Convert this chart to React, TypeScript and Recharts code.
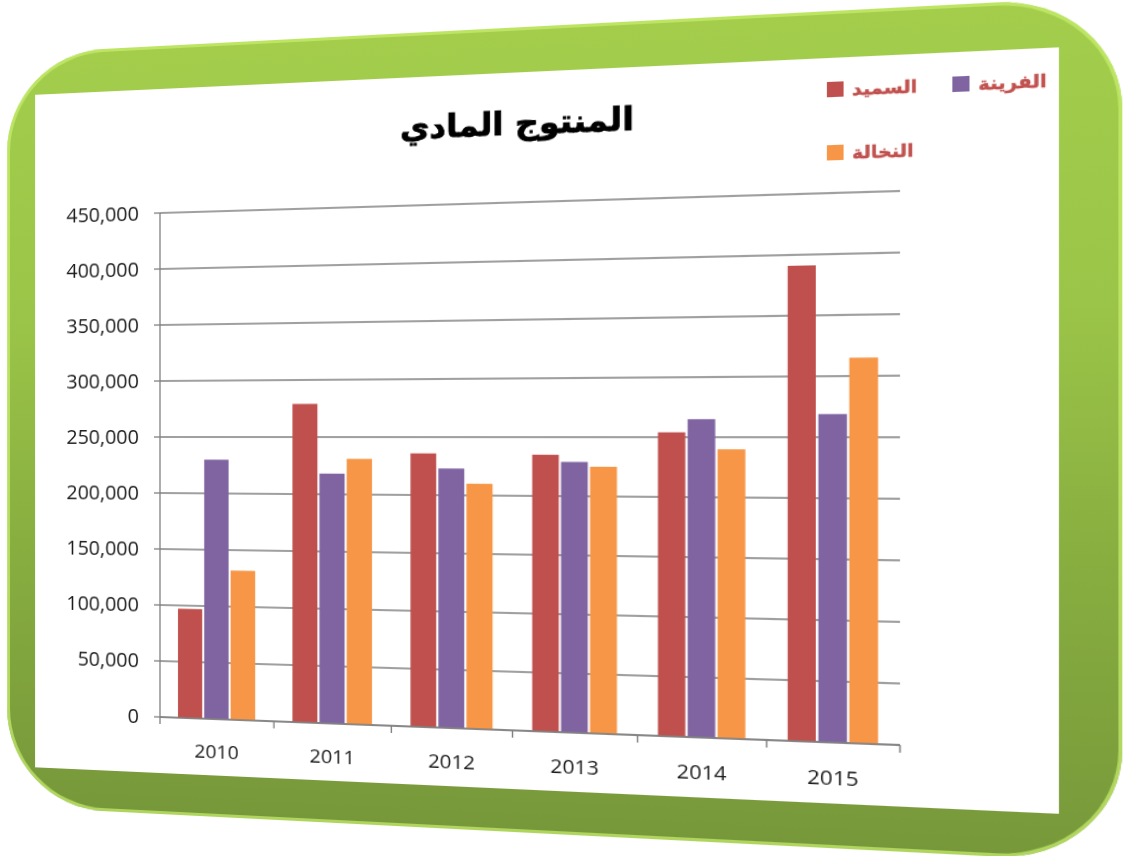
import { BarChart, Bar, XAxis, YAxis, CartesianGrid } from "recharts";

const years = ["2010", "2011", "2012", "2013", "2014", "2015"];
const semolina = [97000, 279000, 236000, 235000, 254000, 391000];
const flour = [230000, 218000, 223000, 229000, 265000, 269000];
const bran = [132000, 231000, 210000, 225000, 240000, 315000];
const yTicks = [0, 50000, 100000, 150000, 200000, 250000, 300000, 350000, 400000, 450000];

const series = [
  { key: "semolina", name: "السميد", color: "#c0504d" },
  { key: "flour", name: "الفرينة", color: "#8064a2" },
  { key: "bran", name: "النخالة", color: "#f79646" },
];

const data = years.map((y, i) => ({
  year: y,
  semolina: semolina[i],
  flour: flour[i],
  bran: bran[i],
}));

const CHART_W = 900;
const CHART_H = 620;
const MARGIN = { top: 63, right: 67, bottom: 13, left: 60 };
const Y_W = 100;
const PLOT_W = CHART_W - MARGIN.left - MARGIN.right - Y_W;
const STEP = PLOT_W / years.length;

const fmt = (v: number) => v.toLocaleString("en-US");

function YearTick(props: any) {
  const { x, y, payload, index } = props;
  const half = STEP / 2;
  return (
    <g>
      <line x1={x - half} x2={x - half} y1={y - 6} y2={y + 1} stroke="#808080" strokeWidth={1.3} />
      {index === years.length - 1 && (
        <line x1={x + half} x2={x + half} y1={y - 6} y2={y + 1} stroke="#808080" strokeWidth={1.3} />
      )}
      <text
        x={x}
        y={y + 33}
        textAnchor="middle"
        fontFamily="'Open Sans', sans-serif"
        fontSize={19}
        fill="#1a1a1a"
      >
        {payload.value}
      </text>
    </g>
  );
}

export default function App() {
  return (
    <div
      style={{
        position: "absolute",
        left: 0,
        top: 0,
        width: 1126,
        height: 856,
        overflow: "hidden",
        background: "#fff",
      }}
    >
      <div
        style={{
          position: "absolute",
          left: 0,
          top: 0,
          width: 1126,
          height: 856,
          transformOrigin: "0 0",
          transform:
            "matrix3d(0.9788, -0.05832, 0, -0.0001342, 0, 1, 0, 0, 0, 0, 1, 0, 3.39, 9.33, 0, 1.02147)",
        }}
      >
        {/* green frame */}
        <div
          style={{
            position: "absolute",
            left: 4,
            top: 46,
            width: 1008,
            height: 768,
            borderRadius: 100,
            background:
              "linear-gradient(180deg, #a3cd4b 0%, #9bc548 35%, #88ae40 65%, #77983a 100%)",
            boxShadow: "inset 0 0 0 3px rgba(200,240,110,0.7)",
          }}
        />
        {/* white panel */}
        <div
          style={{
            position: "absolute",
            left: 33,
            top: 89,
            width: 929,
            height: 684,
            background: "#fff",
          }}
        />
        <div
          style={{
            position: "absolute",
            left: 299,
            top: 118,
            width: 400,
            lineHeight: "40px",
            textAlign: "center",
            direction: "rtl",
            fontFamily: "'DejaVu Sans', sans-serif",
            fontWeight: 700,
            fontSize: 30,
            color: "#000",
            WebkitTextStroke: "0.8px #000",
          }}
        >
          المنتوج المادي
        </div>
        <div
          style={{
            position: "absolute",
            left: 772,
            top: 107,
            display: "grid",
            gridTemplateColumns: "104px 104px",
            rowGap: 36,
          }}
        >
          {series.map((s) => (
            <div key={s.key} style={{ display: "flex", alignItems: "center", height: 22 }}>
              <span style={{ width: 14, height: 14, background: s.color, display: "inline-block" }} />
              <span
                style={{
                  marginLeft: 7,
                  direction: "rtl",
                  fontFamily: "'DejaVu Sans', sans-serif",
                  fontWeight: 700,
                  fontSize: 16,
                  color: "#c0504d",
                  WebkitTextStroke: "0.4px #c0504d",
                }}
              >
                {s.name}
              </span>
            </div>
          ))}
        </div>
        <div style={{ position: "absolute", left: 0, top: 150 }}>
          <BarChart
            width={CHART_W}
            height={CHART_H}
            data={data}
            margin={MARGIN}
            barCategoryGap="16%"
            barGap={2}
          >
            <CartesianGrid vertical={false} stroke="#808080" strokeWidth={1.5} />
            <XAxis
              dataKey="year"
              height={40}
              stroke="#808080"
              strokeWidth={1.3}
              tickLine={false}
              tickSize={6}
              tickMargin={0}
              tick={<YearTick />}
              interval={0}
            />
            <YAxis
              width={Y_W}
              domain={[0, 450000]}
              ticks={yTicks}
              tickFormatter={fmt}
              stroke="#808080"
              strokeWidth={1.3}
              tickSize={6}
              tickMargin={15}
              tick={{ fontSize: 20, fill: "#1a1a1a", fontFamily: "'Open Sans', sans-serif" }}
            />
            {series.map((s) => (
              <Bar
                key={s.key}
                dataKey={s.key}
                name={s.name}
                fill={s.color}
                isAnimationActive={false}
              />
            ))}
          </BarChart>
        </div>
      </div>
    </div>
  );
}
